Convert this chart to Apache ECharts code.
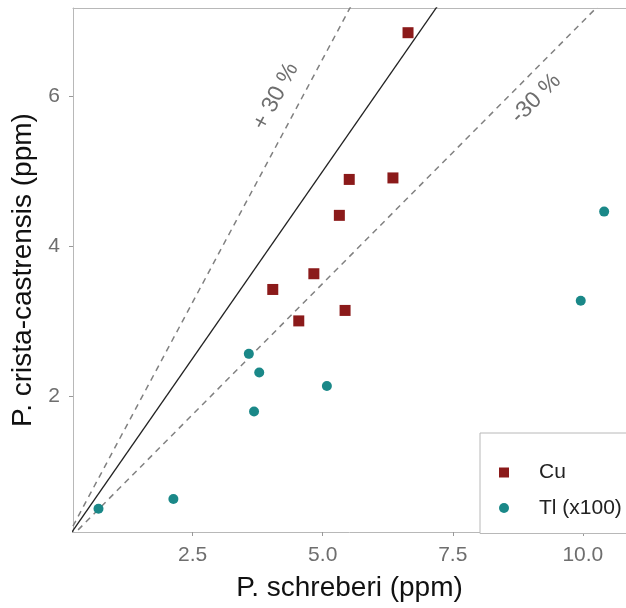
<!DOCTYPE html>
<html>
<head>
<meta charset="utf-8">
<script src="https://cdn.jsdelivr.net/npm/echarts@6/dist/echarts.min.js"></script>
<style>html,body{margin:0;padding:0;background:#fff}#c{width:626px;height:608px}</style>
</head>
<body>
<div id="c"></div>
<script>
// Data
var cuX = [6.64, 6.35, 5.51, 5.32, 4.83, 4.04, 4.54, 5.43];
var cuY = [6.85, 4.91, 4.89, 4.41, 3.63, 3.42, 3.00, 3.14];
var tlX = [0.69, 2.13, 3.58, 3.78, 3.68, 5.08, 9.96, 10.41];
var tlY = [0.49, 0.62, 2.56, 2.31, 1.79, 2.13, 3.27, 4.46];
var xTicks = [2.5, 5.0, 7.5, 10.0];
var yTicks = [2, 4, 6];
var ratios = [1.0, 1.3, 0.7];
var ratioLabels = ['', '+ 30 %', '-30 %'];
var labelPosX = [null, 4.1, 9.1];
var labelPosY = [null, 6.0, 5.97];

var xMin = 0.2, xMax = 10.83, yMin = 0.18, yMax = 7.18;
var font = 'Liberation Sans, Arial, sans-serif';
var frame = '#b8b8b8';

function zip(a, b) { return a.map(function (v, i) { return [v, b[i]]; }); }

var series = [];
ratios.forEach(function (r, i) {
  series.push({
    type: 'line', silent: true, symbol: 'none', clip: true,
    data: [[0, 0], [xMax, xMax * r]],
    lineStyle: { color: i === 0 ? '#222' : '#808080', width: i === 0 ? 1.3 : 1.5, type: i === 0 ? 'solid' : [6, 5] },
    z: 2
  });
  if (ratioLabels[i]) {
    series.push({
      type: 'scatter', silent: true, symbolSize: 0,
      data: [[labelPosX[i], labelPosY[i]]],
      label: { show: true, position: 'inside', formatter: ratioLabels[i], rotate: i === 1 ? 62 : 45,
        color: '#4a4a4a', fontSize: 23, fontFamily: font },
      z: 3
    });
  }
});
series.push({
  name: 'Cu', type: 'scatter', symbol: 'rect', symbolSize: 11,
  data: zip(cuX, cuY), itemStyle: { color: '#8b1a1a', opacity: 1 }, z: 5
});
series.push({
  name: 'Tl (x100)', type: 'scatter', symbol: 'circle', symbolSize: 10,
  data: zip(tlX, tlY), itemStyle: { color: '#1a8888', opacity: 1 }, z: 5
});

var chart = echarts.init(document.getElementById('c'), null, { renderer: 'canvas' });
chart.setOption({
  animation: false,
  backgroundColor: '#fff',
  grid: { left: 73, top: 8, right: 0, bottom: 76, show: false },
  legend: {
    left: 480, top: 433, orient: 'vertical',
    data: [{ name: 'Cu', icon: 'rect' }, { name: 'Tl (x100)', icon: 'circle' }],
    itemWidth: 10, itemHeight: 10, itemGap: 14.5,
    padding: [29, 80, 15, 19],
    backgroundColor: '#fff', borderColor: frame, borderWidth: 1,
    textStyle: { fontSize: 21, color: '#222', fontFamily: font, padding: [0, 0, 0, 25] }
  },
  xAxis: [{
    type: 'value', min: xMin, max: xMax, position: 'bottom',
    name: 'P. schreberi (ppm)', nameLocation: 'middle', nameGap: 42,
    nameTextStyle: { fontSize: 28, color: '#111', fontFamily: font },
    splitLine: { show: false }, axisLine: { show: true, lineStyle: { color: frame, width: 1 } },
    axisTick: { show: true, length: 4, lineStyle: { color: '#999' }, customValues: xTicks },
    axisLabel: { fontSize: 21, color: '#6e6e6e', fontFamily: font, margin: 13, customValues: xTicks,
      formatter: function (v) { return v.toFixed(1); } }
  }, {
    type: 'value', min: xMin, max: xMax, position: 'top',
    splitLine: { show: false }, axisLine: { show: true, lineStyle: { color: frame, width: 1 } },
    axisTick: { show: false }, axisLabel: { show: false }
  }],
  yAxis: {
    type: 'value', min: yMin, max: yMax,
    name: 'P. crista-castrensis (ppm)', nameLocation: 'middle', nameGap: 31, nameRotate: 90,
    nameTextStyle: { fontSize: 28, color: '#111', fontFamily: font },
    splitLine: { show: false }, axisLine: { show: true, lineStyle: { color: frame, width: 1 } },
    axisTick: { show: true, length: 4, lineStyle: { color: '#999' }, customValues: yTicks },
    axisLabel: { fontSize: 21, color: '#6e6e6e', fontFamily: font, margin: 13, customValues: yTicks,
      formatter: function (v) { return String(v); } }
  },
  series: series
});
</script>
</body>
</html>
